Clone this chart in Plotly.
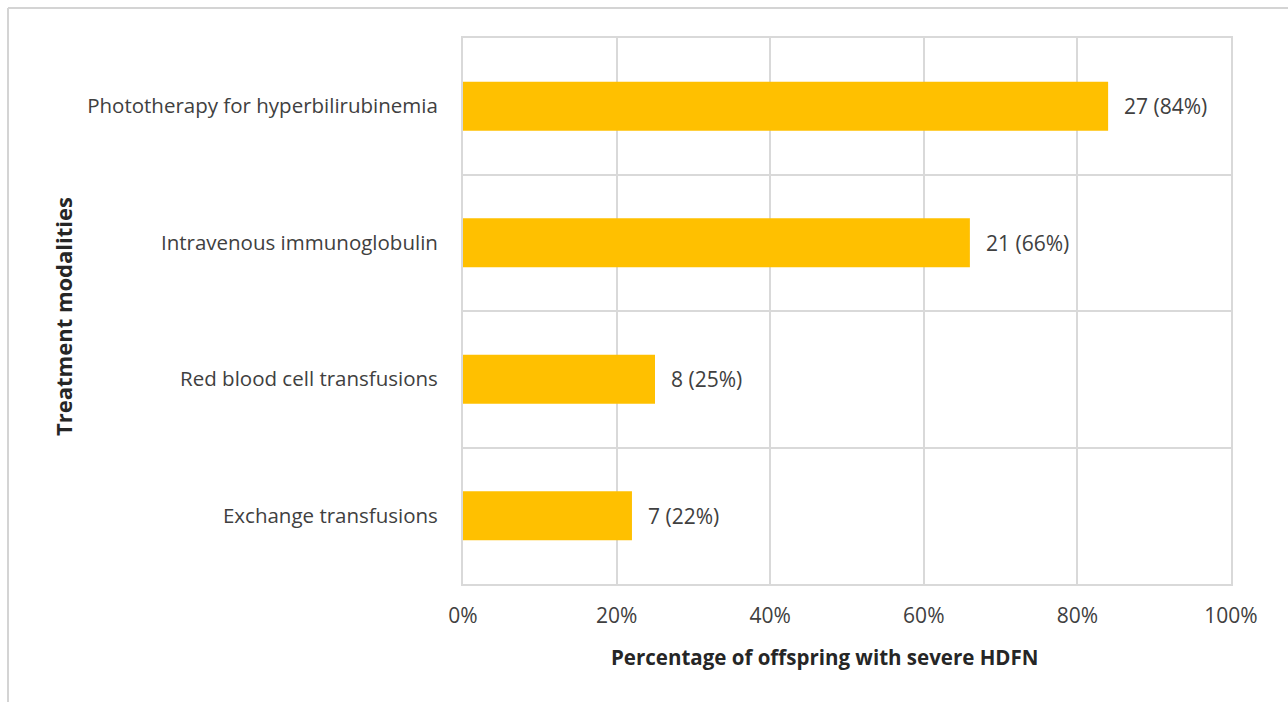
import plotly.graph_objects as go

categories = ["Phototherapy for hyperbilirubinemia", "Intravenous immunoglobulin",
              "Red blood cell transfusions", "Exchange transfusions"]
counts = [27, 21, 8, 7]
percents = [84, 66, 25, 22]
x_ticks = [0, 20, 40, 60, 80, 100]
x_tick_labels = [f"{v}%" for v in x_ticks]

# plotted bottom-to-top
cats_r = categories[::-1]
pct_r = percents[::-1]
cnt_r = counts[::-1]
labels_r = [f"{c} ({p}%)" for c, p in zip(cnt_r, pct_r)]

W, H = 1288, 702
L, R, T, B = 463, 57, 38, 118
pw, ph = W - L - R, H - T - B

def px_x(px):
    return (px - L) / pw

def px_y(py):
    return (H - B - py) / ph

FONT = "Open Sans"
TXT = "#404040"

fig = go.Figure()
fig.add_trace(go.Bar(
    x=pct_r, y=cats_r, orientation="h",
    marker=dict(color="#FFC000", line=dict(width=0)),
    width=0.36, hoverinfo="skip",
))

for c, p, lab in zip(cats_r, pct_r, labels_r):
    fig.add_annotation(x=p, y=c, xref="x", yref="y", text=lab, showarrow=False,
                       xanchor="left", xshift=14,
                       font=dict(family=FONT, size=21, color=TXT))

grid = "#d9d9d9"
fig.update_layout(
    width=W, height=H,
    margin=dict(l=L, r=R, t=T, b=B),
    paper_bgcolor="white", plot_bgcolor="white",
    showlegend=False,
    xaxis=dict(range=[0, 100], tickvals=x_ticks, ticktext=x_tick_labels,
               showgrid=True, gridcolor=grid, gridwidth=2,
               zeroline=False, showline=True, linecolor=grid, linewidth=2, mirror=True,
               ticks="", ticklabelstandoff=12,
               tickfont=dict(family=FONT, size=21, color=TXT)),
    yaxis=dict(type="category", categoryorder="array", categoryarray=cats_r,
               tickson="boundaries", showgrid=True, gridcolor=grid, gridwidth=2,
               showline=True, linecolor=grid, linewidth=2, mirror=True,
               ticks="", ticklabelstandoff=19,
               tickfont=dict(family=FONT, size=20.5, color=TXT)),
)

fig.add_annotation(x=px_x(824), y=px_y(657), xref="paper", yref="paper",
                   xanchor="center", yanchor="middle",
                   text="<b>Percentage of offspring with severe HDFN</b>", showarrow=False,
                   font=dict(family=FONT, size=20.5, color="#262626"))
fig.add_annotation(x=px_x(63), y=px_y(317), xref="paper", yref="paper",
                   xanchor="center", yanchor="middle",
                   text="<b>Treatment modalities</b>", showarrow=False, textangle=-90,
                   font=dict(family=FONT, size=22, color="#262626"))

# outer frame lines of the screenshot
fig.add_shape(type="line", xref="paper", yref="paper",
              x0=px_x(8), x1=px_x(1300), y0=px_y(8), y1=px_y(8),
              line=dict(color="#d4d4d4", width=2))
fig.add_shape(type="line", xref="paper", yref="paper",
              x0=px_x(8), x1=px_x(8), y0=px_y(8), y1=px_y(710),
              line=dict(color="#d4d4d4", width=2))

fig.write_html("out.html")
